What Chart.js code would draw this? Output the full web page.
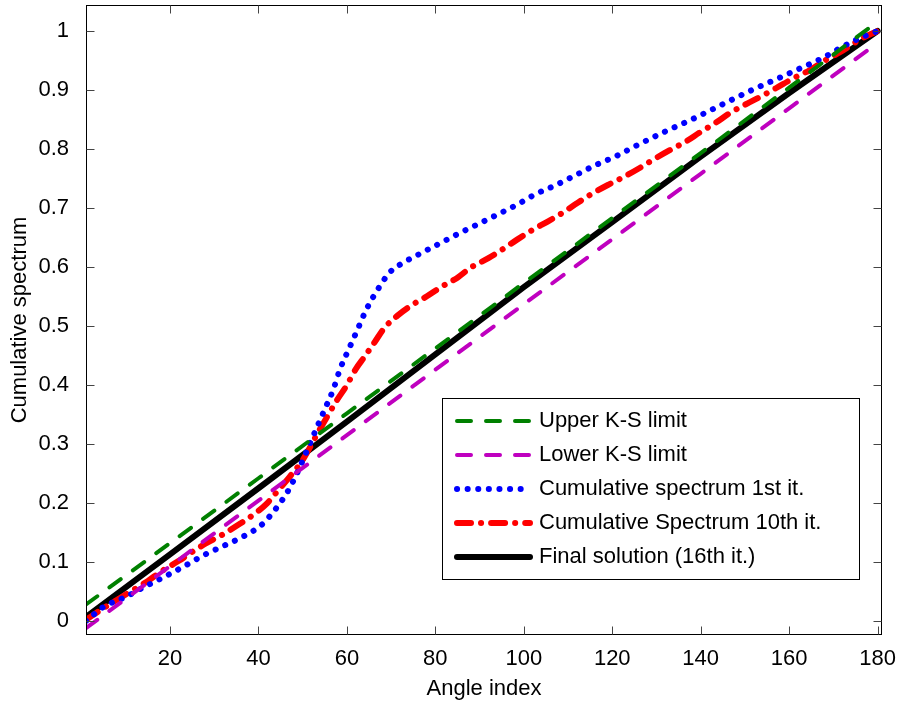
<!DOCTYPE html>
<html><head><meta charset="utf-8">
<script src="https://cdn.jsdelivr.net/npm/chart.js@4/dist/chart.umd.min.js"></script>
<style>html,body{margin:0;padding:0;background:#fff;}canvas{display:block;}</style>
</head><body>
<canvas id="c" width="899" height="702"></canvas>
<script>
// ---- data ----
const xTickValues = [20, 40, 60, 80, 100, 120, 140, 160, 180];
const yTickValues = [0, 0.1, 0.2, 0.3, 0.4, 0.5, 0.6, 0.7, 0.8, 0.9, 1];

const limitAngles = [1, 20, 40, 60, 80, 100, 120, 140, 160, 180];
const upperLimit  = [0.028, 0.132, 0.242, 0.352, 0.462, 0.573, 0.683, 0.793, 0.904, 1.016];
const lowerLimit  = [-0.012, 0.093, 0.204, 0.315, 0.426, 0.537, 0.647, 0.758, 0.869, 0.980];
const finalSolution = [0.007, 0.113, 0.225, 0.338, 0.452, 0.566, 0.676, 0.787, 0.895, 1.000];

const firstItAngles = [1,5,10,14,18.5,23,27.5,32,36.5,40.7,44,46.8,49,51.6,53.9,55,56.9,58.5,60.5,62.4,64.4,66.9,69.7,72,76.4,81,85.1,89.2,93.8,98.3,102.8,107.3,111.8,116.3,120.9,125,131.8,138.5,145.3,151.9,158.5,161.1,167.5,172,176.6,180];
const firstItValues = [0.000,0.024,0.041,0.057,0.074,0.092,0.111,0.127,0.143,0.163,0.191,0.222,0.255,0.300,0.340,0.359,0.392,0.428,0.462,0.494,0.528,0.561,0.591,0.604,0.622,0.640,0.656,0.671,0.688,0.705,0.724,0.739,0.756,0.773,0.788,0.804,0.829,0.852,0.877,0.901,0.923,0.932,0.954,0.973,0.990,1.000];

const tenthItAngles = [1,5,10,15,18,22,25,28,32,35,39,42,44.4,47,50,53.5,55.5,57.8,60,62,64,66.3,68.5,71.5,75,78,81.5,85,88,92,95,98.4,102,105.4,108.8,112.2,115.6,119,122.7,126,129.5,133,136.5,140,143.3,146.6,150,153.6,157,161,164.5,168.3,171.7,176.6,180];
const tenthItValues = [0.002,0.022,0.045,0.068,0.084,0.102,0.117,0.131,0.147,0.161,0.181,0.200,0.221,0.244,0.273,0.320,0.346,0.375,0.400,0.427,0.448,0.473,0.497,0.518,0.537,0.550,0.567,0.582,0.599,0.615,0.629,0.646,0.663,0.677,0.692,0.709,0.725,0.739,0.753,0.767,0.783,0.798,0.812,0.829,0.844,0.861,0.875,0.889,0.903,0.920,0.933,0.951,0.965,0.988,1.000];

const seriesLabels = ['Upper K-S limit', 'Lower K-S limit', 'Cumulative spectrum 1st it.', 'Cumulative Spectrum 10th it.', 'Final solution (16th it.)'];

const pts = (xs, ys) => xs.map((x, i) => ({x: x, y: ys[i]}));
const FONT = '"Liberation Sans", Arial, Helvetica, sans-serif';

// frame + inward ticks (drawn from the scales)
const framePlugin = {
  id: 'frame',
  afterDatasetsDraw(chart) {
    const {ctx, chartArea: a, scales: {x, y}} = chart;
    ctx.save();
    ctx.strokeStyle = '#000';
    ctx.lineWidth = 1;
    const L = Math.round(a.left) + 0.5, R = Math.round(a.right) - 0.5;
    const T = Math.round(a.top) + 0.5, B = Math.round(a.bottom) - 0.5;
    ctx.strokeRect(L, T, R - L, B - T);
    ctx.strokeStyle = '#444';
    const len = 8;
    ctx.beginPath();
    xTickValues.forEach(v => {
      const px = Math.round(x.getPixelForValue(v)) + 0.5;
      ctx.moveTo(px, B); ctx.lineTo(px, B - len);
      ctx.moveTo(px, T); ctx.lineTo(px, T + len);
    });
    yTickValues.forEach(v => {
      const py = Math.round(y.getPixelForValue(v)) + 0.5;
      ctx.moveTo(L, py); ctx.lineTo(L + len, py);
      ctx.moveTo(R, py); ctx.lineTo(R - len, py);
    });
    ctx.stroke();
    ctx.restore();
  }
};

// legend box drawn from the dataset styles
const legendPlugin = {
  id: 'boxLegend',
  afterDraw(chart) {
    const {ctx} = chart;
    const bx = 442.5, by = 398.5, bw = 417, bh = 181;
    ctx.save();
    ctx.fillStyle = '#fff';
    ctx.fillRect(bx, by, bw, bh);
    ctx.strokeStyle = '#000';
    ctx.lineWidth = 1;
    ctx.strokeRect(bx, by, bw, bh);
    chart.data.datasets.forEach((ds, i) => {
      const yy = 421 + i * 34;
      ctx.beginPath();
      ctx.setLineDash(ds.borderDash || []);
      ctx.lineDashOffset = 0;
      ctx.lineCap = 'round';
      ctx.lineWidth = ds.borderWidth;
      ctx.strokeStyle = ds.borderColor;
      ctx.moveTo(457, yy); ctx.lineTo(530, yy);
      ctx.stroke();
      ctx.setLineDash([]);
      ctx.fillStyle = '#000';
      ctx.font = '22px ' + FONT;
      ctx.textBaseline = 'middle';
      ctx.textAlign = 'left';
      ctx.fillText(ds.label, 539, yy);
    });
    ctx.restore();
  }
};

const common = {fill: false, pointRadius: 0, pointHoverRadius: 0, borderCapStyle: 'round', borderJoinStyle: 'round'};

new Chart(document.getElementById('c'), {
  type: 'line',
  data: {
    datasets: [
      Object.assign({label: seriesLabels[0], data: pts(limitAngles, upperLimit), borderColor: 'rgb(0,128,0)', borderWidth: 4, borderDash: [14, 15], tension: 0}, common),
      Object.assign({label: seriesLabels[1], data: pts(limitAngles, lowerLimit), borderColor: 'rgb(191,0,191)', borderWidth: 4, borderDash: [14, 15], tension: 0}, common),
      Object.assign({label: seriesLabels[2], data: pts(firstItAngles, firstItValues), borderColor: 'rgb(0,0,255)', borderWidth: 6, borderDash: [0.1, 10.5], cubicInterpolationMode: 'monotone'}, common),
      Object.assign({label: seriesLabels[3], data: pts(tenthItAngles, tenthItValues), borderColor: 'rgb(255,0,0)', borderWidth: 6, borderDash: [14, 10, 0.1, 10], cubicInterpolationMode: 'monotone'}, common),
      Object.assign({label: seriesLabels[4], data: pts(limitAngles, finalSolution), borderColor: '#000', borderWidth: 6, borderDash: [], tension: 0}, common)
    ]
  },
  options: {
    responsive: false,
    animation: false,
    events: [],
    layout: {padding: {left: 0, top: 5, right: 17, bottom: 0}},
    plugins: {legend: {display: false}, tooltip: {enabled: false}},
    scales: {
      x: {
        type: 'linear', min: 1, max: 181,
        grid: {display: false}, border: {display: false},
        afterBuildTicks: s => { s.ticks = xTickValues.map(v => ({value: v})); },
        afterFit: s => { s.height = 67; s.paddingLeft = 0; s.paddingRight = 0; },
        ticks: {color: '#000', font: {family: FONT, size: 22}, padding: 3, maxRotation: 0, autoSkip: false},
        title: {display: true, text: 'Angle index', color: '#000', font: {family: FONT, size: 22}, padding: {top: 0, bottom: 0}}
      },
      y: {
        type: 'linear', min: -0.0237, max: 1.0441,
        grid: {display: false}, border: {display: false},
        afterBuildTicks: s => { s.ticks = yTickValues.map(v => ({value: v})); },
        afterFit: s => { s.width = 86; s.paddingTop = 0; s.paddingBottom = 0; },
        ticks: {color: '#000', font: {family: FONT, size: 22}, padding: 9, autoSkip: false, callback: v => String(Math.round(v * 10) / 10)},
        title: {display: true, text: 'Cumulative spectrum', color: '#000', font: {family: FONT, size: 22}, padding: {top: 7, bottom: 0}}
      }
    }
  },
  plugins: [framePlugin, legendPlugin]
});
</script>
</body></html>
